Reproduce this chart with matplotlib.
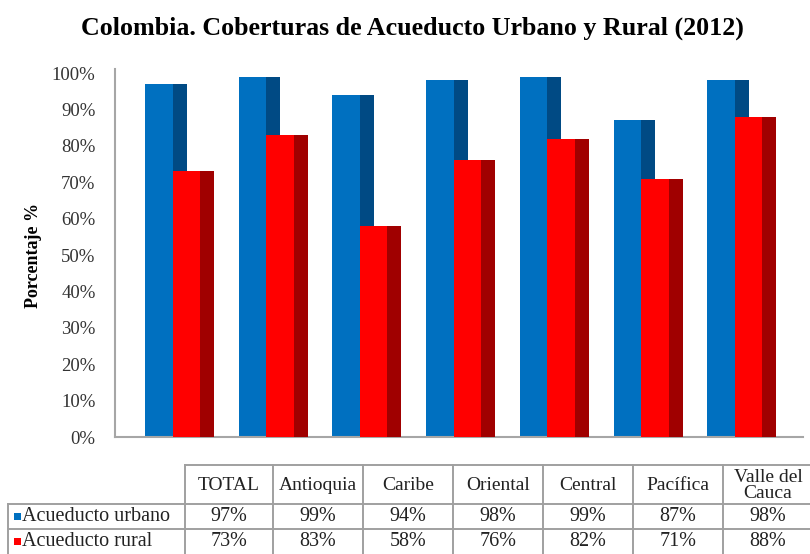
import matplotlib
matplotlib.use("Agg")
import matplotlib.pyplot as plt
import numpy as np

categories = ["TOTAL", "Antioquia", "Caribe", "Oriental", "Central", "Pacífica", "Valle del\nCauca"]
urbano = [97, 99, 94, 98, 99, 87, 98]
rural = [73, 83, 58, 76, 82, 71, 88]
series_names = ["Acueducto urbano", "Acueducto rural"]
yticks = list(range(0, 101, 10))
title = "Colombia. Coberturas de Acueducto Urbano y Rural (2012)"
ylabel = "Porcentaje %"

W, H = 810, 554
fig = plt.figure(figsize=(W / 100, H / 100), dpi=100)
serif = ["Liberation Serif", "DejaVu Serif"]

def fx(px):
    return px / W

def fy(py):
    return 1 - py / H

# main axes
ax_left, ax_right, ax_bottom, ax_top = 115, 803, 437, 73
ax = fig.add_axes([fx(ax_left), fy(ax_bottom), fx(ax_right - ax_left), fy(ax_top) - fy(ax_bottom)])

pitch = 93.7
front = 27.5 / pitch
side = 14 / pitch
off = -34 / pitch
x = np.arange(len(categories))

blue_f, blue_s = "#0070C0", "#004A84"
red_f, red_s = "#FF0000", "#A00000"

ax.bar(x + off, urbano, width=front, align="edge", color=blue_f, linewidth=0, zorder=2)
ax.bar(x + off + front, urbano, width=side, align="edge", color=blue_s, linewidth=0, zorder=2)
ax.bar(x + off + front, rural, width=front, align="edge", color=red_f, linewidth=0, zorder=3)
ax.bar(x + off + 2 * front, rural, width=side, align="edge", color=red_s, linewidth=0, zorder=3)

ax.set_xlim((ax_left - 179) / pitch, (ax_right - 179) / pitch)
ax.set_ylim(0, 100)
ax.set_yticks(yticks)
ax.set_yticklabels([f"{t}%" for t in yticks], family=serif, fontsize=13.5, color="#333333")
ax.tick_params(axis="y", length=0, pad=14)
ax.set_xticks([])
for s in ["top", "right"]:
    ax.spines[s].set_visible(False)
for s in ["left", "bottom"]:
    ax.spines[s].set_color("#A6A6A6")
    ax.spines[s].set_linewidth(1.5)
ax.spines["left"].set_bounds(0, 101)
ax.set_clip_on(False)

fig.text(fx(412), fy(28), title, family=serif, fontsize=18.7, fontweight="bold",
         ha="center", va="center")
fig.text(fx(33), fy(255), ylabel, family=serif, fontsize=13, fontweight="bold",
         rotation=90, ha="center", va="center")

# data table
tax = fig.add_axes([0, 0, 1, 1])
tax.set_xlim(0, W)
tax.set_ylim(H, 0)
tax.axis("off")
col_edges = [185, 273, 363, 453, 543, 633, 723, 813]
row_edges = [465, 504, 529, 556]
lab_left = 8
lc = "#A0A0A0"
lw = 1.4
tax.plot([col_edges[0], col_edges[-1]], [row_edges[0]] * 2, color=lc, lw=lw)
for r in row_edges[1:]:
    tax.plot([lab_left, col_edges[-1]], [r, r], color=lc, lw=lw)
for c in col_edges:
    tax.plot([c, c], [row_edges[0], row_edges[-1]], color=lc, lw=lw)
tax.plot([lab_left, lab_left], [row_edges[1], row_edges[-1]], color=lc, lw=lw)

for i, cat in enumerate(categories):
    cx = (col_edges[i] + col_edges[i + 1]) / 2
    tax.text(cx, (row_edges[0] + row_edges[1]) / 2 + 1, cat, family=serif, fontsize=14,
             ha="center", va="center", color="#222222", linespacing=0.9)
for ri, (vals, name, col) in enumerate([(urbano, series_names[0], blue_f), (rural, series_names[1], red_f)]):
    cy = (row_edges[ri + 1] + row_edges[ri + 2]) / 2
    if ri == 1:
        cy = 542
    for i, v in enumerate(vals):
        cx = (col_edges[i] + col_edges[i + 1]) / 2
        tax.text(cx, cy, f"{v}%", family=serif, fontsize=14.5, ha="center", va="center", color="#222222")
    tax.add_patch(plt.Rectangle((14, cy - 4), 7, 7, color=col, lw=0))
    tax.text(22, cy, name, family=serif, fontsize=14.5, ha="left", va="center", color="#222222")

fig.savefig("out.png", dpi=100)
